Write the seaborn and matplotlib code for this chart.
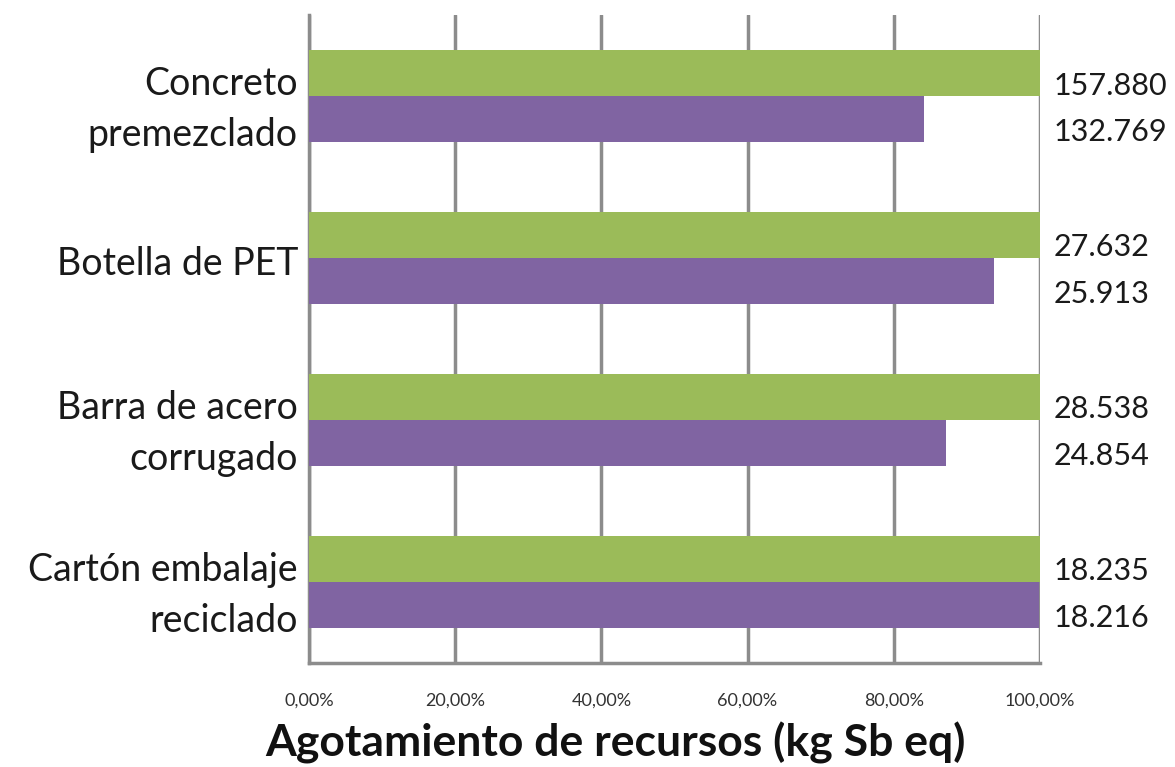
import pandas as pd
import matplotlib.pyplot as plt
import matplotlib.transforms as mtransforms
import seaborn as sns
from matplotlib.ticker import FixedLocator

# Data
categories = ['Concreto\npremezclado', 'Botella de PET', 'Barra de acero\ncorrugado',
              'Cartón embalaje\nreciclado']
series_a = [157880, 27632, 28538, 18235]   # green (reference = 100%)
series_b = [132769, 25913, 24854, 18216]   # purple
labels_a = ['157.880', '27.632', '28.538', '18.235']
labels_b = ['132.769', '25.913', '24.854', '18.216']
xticks = [0, 20, 40, 60, 80, 100]
xtick_labels = ['0,00%', '20,00%', '40,00%', '60,00%', '80,00%', '100,00%']

green = '#9BBB59'
purple = '#8064A2'
grey = '#8C8C8C'

# Build long table with shares relative to green series
rows = []
for cat, a, b in zip(categories, series_a, series_b):
    rows.append({'Producto': cat, 'Serie': 'A', 'Valor': 100.0})
    rows.append({'Producto': cat, 'Serie': 'B', 'Valor': b / a * 100})
df = pd.DataFrame(rows)

sns.set_style('white')
plt.rcParams['font.family'] = ['Lato', 'DejaVu Sans']

fig = plt.figure(figsize=(11.75, 7.67), dpi=100)
ax = fig.add_axes([0.263, 0.1356, 0.622, 0.8447])

sns.barplot(data=df, x='Valor', y='Producto', hue='Serie', order=categories,
            hue_order=['A', 'B'], palette=[green, purple], orient='h',
            width=0.57, gap=0, saturation=1, legend=False, ax=ax,
            linewidth=0, edgecolor='none', zorder=3)

ax.set_xlim(0, 100)
ax.set_ylim(3.5, -0.5)

# x axis: percent ticks with gridlines
ax.set_xticks(xticks)
ax.set_xticklabels(xtick_labels)
ax.tick_params(axis='x', which='major', length=9, width=2.5, color=grey,
               direction='out', pad=12, labelsize=13, labelcolor='#333333')
ax.grid(axis='x', color=grey, linewidth=2.5, zorder=0)
ax.set_axisbelow(True)

# y axis: labels centred on groups, ticks at group boundaries
ax.set_yticks(range(len(categories)))
ax.set_yticklabels(categories, fontsize=27, linespacing=1.5, color='#1a1a1a')
ax.tick_params(axis='y', which='major', length=0, pad=8)
shift = mtransforms.ScaledTranslation(0, -2 / 72, fig.dpi_scale_trans)
for lab in ax.get_yticklabels():
    lab.set_transform(lab.get_transform() + shift)
ax.yaxis.set_minor_locator(FixedLocator([-0.5, 0.5, 1.5, 2.5, 3.5]))
ax.tick_params(axis='y', which='minor', length=9, width=2.5, color=grey, direction='out')

for side in ['top', 'right']:
    ax.spines[side].set_visible(False)
for side in ['left', 'bottom']:
    ax.spines[side].set_color(grey)
    ax.spines[side].set_linewidth(2.5)

ax.set_ylabel('')
ax.set_xlabel('Agotamiento de recursos (kg Sb eq)', fontsize=32, fontweight='bold',
              color='#111111', va='baseline')
ax.xaxis.set_label_coords(0.419, -0.145)

# value labels to the right of the plot
trans = mtransforms.blended_transform_factory(ax.transAxes, ax.transData)
bw = 0.57 / 2
for i in range(len(categories)):
    ax.annotate(labels_a[i], xy=(1.0, i - bw / 2), xycoords=trans,
                xytext=(10, -9), textcoords='offset points',
                ha='left', va='center', fontsize=22, color='#1a1a1a',
                annotation_clip=False)
    ax.annotate(labels_b[i], xy=(1.0, i + bw / 2), xycoords=trans,
                xytext=(10, -9), textcoords='offset points',
                ha='left', va='center', fontsize=22, color='#1a1a1a',
                annotation_clip=False)

fig.savefig('out.png', dpi=100)
